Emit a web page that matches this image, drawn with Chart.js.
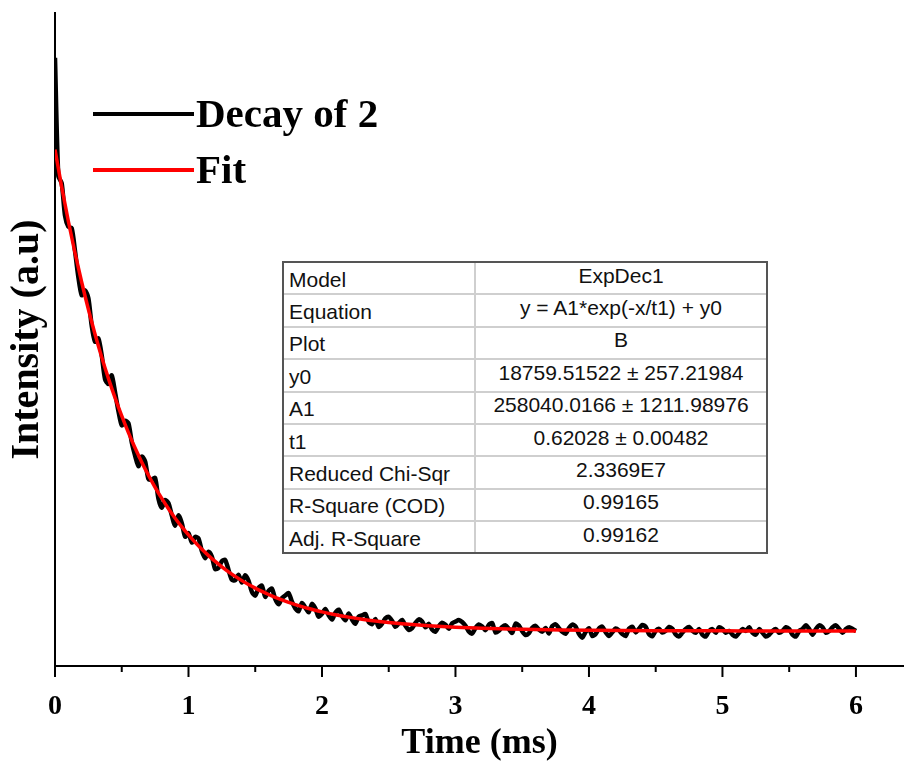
<!DOCTYPE html>
<html>
<head>
<meta charset="utf-8">
<script src="https://cdn.jsdelivr.net/npm/chart.js@4.4.1/dist/chart.umd.min.js"></script>
<style>
  body { margin: 0; background: #fff; }
  #wrap { position: relative; width: 904px; height: 762px; }
  #fitTable {
    position: absolute; left: 282px; top: 261px; width: 486px; height: 293px;
    border-collapse: separate; border-spacing: 0; border: 2px solid #555;
    table-layout: fixed; background: #fff; box-sizing: border-box;
    font: 21px/20px "Liberation Sans", Arial, sans-serif; color: #111;
  }
  #fitTable td { padding: 0 5px; border-bottom: 2px solid #cfcfcf; white-space: nowrap; }
  #fitTable tr:last-child td { border-bottom: none; }
  #fitTable td.k { width: 180px; border-right: 2px solid #cfcfcf; padding-top: 3px; }
  #fitTable td.v { text-align: center; padding-bottom: 5px; }
</style>
</head>
<body>
<div id="wrap">
  <canvas id="decayChart"></canvas>
  <table id="fitTable"></table>
</div>
<script>
// decay of 2, intensity in thousands of counts, sampled every 0.025 ms
const timeStep = 0.025;
const decayK = [
  326, 262.6, 258.8, 241.4, 235.4, 234.7, 222.4, 208.4, 198.7, 201.3,
  197.2, 182.4, 173.8, 175.6, 166.5, 153.7, 151.2, 155.8, 146.7, 136.7,
  129.0, 131.4, 130.1, 119.9, 112.8, 107.0, 112.3, 109.7, 100.2, 99.9,
  100.8, 89.7, 84.8, 89.0, 87.3, 80.7, 75.2, 80.8, 76.5, 69.3,
  71.2, 66.2, 69.2, 68.4, 61.6, 57.8, 61.2, 58.6, 52.0, 52.6,
  56.2, 56.8, 51.5, 46.2, 46.0, 48.9, 44.8, 48.7, 45.7, 39.7,
  37.7, 41.8, 43.0, 37.1, 40.3, 41.5, 35.8, 33.1, 36.4, 37.8,
  39.1, 34.5, 30.9, 29.4, 33.8, 31.3, 28.8, 33.3, 30.9, 26.4,
  28.0, 30.6, 27.2, 24.9, 28.5, 30.2, 26.8, 24.5, 28.2, 24.9,
  22.6, 26.4, 27.1, 27.9, 23.6, 22.4, 25.2, 20.9, 22.7, 25.5,
  26.4, 24.2, 21.0, 22.9, 24.7, 21.6, 19.4, 20.3, 23.1, 25.0,
  23.9, 20.7, 22.6, 19.5, 18.4, 21.3, 23.2, 22.1, 20.0, 22.9,
  23.8, 24.7, 23.6, 21.6, 18.5, 17.4, 20.4, 22.3, 21.2, 19.2,
  22.1, 23.0, 18.0, 18.9, 20.9, 21.8, 19.8, 17.8, 22.7, 21.7,
  18.6, 16.6, 17.6, 20.5, 21.5, 19.5, 18.4, 20.4, 17.4, 21.4,
  22.3, 20.3, 18.3, 17.3, 20.3, 22.2, 21.2, 17.2, 15.2, 18.2,
  20.2, 16.1, 17.1, 20.1, 21.1, 18.1, 16.1, 18.1, 20.1, 19.1,
  17.1, 16.1, 20.0, 21.0, 18.0, 20.0, 22.0, 21.0, 17.0, 16.0,
  18.9, 19.9, 17.9, 18.9, 20.9, 19.9, 16.9, 15.9, 17.9, 19.9,
  20.9, 18.9, 17.8, 19.8, 16.8, 15.8, 18.8, 19.8, 17.8, 20.8,
  19.8, 17.8, 18.8, 16.8, 15.8, 17.8, 19.8, 18.8, 20.8, 17.8,
  16.8, 19.8, 17.8, 15.8, 16.8, 18.8, 19.8, 17.8, 18.8, 20.8,
  19.8, 16.8, 15.8, 18.8, 19.8, 21.8, 19.8, 16.8, 19.8, 21.8,
  20.8, 17.8, 18.8, 20.8, 21.8, 19.8, 17.8, 19.8, 20.8, 19.8,
  18.8
];

// fitted ExpDec1 curve
const fitTime = [
  0, 0.05, 0.1, 0.15, 0.2, 0.25, 0.3, 0.35, 0.4, 0.45,
  0.5, 0.55, 0.6, 0.65, 0.7, 0.75, 0.8, 0.85, 0.9, 0.95,
  1.0, 1.05, 1.1, 1.15, 1.2, 1.25, 1.3, 1.35, 1.4, 1.45,
  1.5, 1.55, 1.6, 1.65, 1.7, 1.75, 1.8, 1.85, 1.9, 1.95,
  2.0, 2.1, 2.2, 2.3, 2.4, 2.5, 2.6, 2.7, 2.8, 2.9,
  3.0, 3.2, 3.4, 3.6, 3.8, 4.0, 4.5, 5.0, 5.5, 6.0
];
const fitK = [
  276.80, 256.81, 238.38, 221.37, 205.68, 191.20, 177.84, 165.52, 154.15, 143.67,
  134.00, 125.08, 116.84, 109.25, 102.24, 95.77, 89.81, 84.30, 79.23, 74.54,
  70.23, 66.24, 62.56, 59.17, 56.04, 53.15, 50.49, 48.03, 45.76, 43.67,
  41.74, 39.96, 38.32, 36.81, 35.41, 34.12, 32.93, 31.83, 30.82, 29.89,
  29.02, 27.50, 26.19, 25.09, 24.15, 23.35, 22.66, 22.08, 21.59, 21.17,
  20.81, 20.24, 19.83, 19.54, 19.32, 19.17, 18.94, 18.84, 18.80, 18.78
];

// time axis ticks: labelled at whole ms, minor marks at the halves
const timeTicks = [0, 0.5, 1, 1.5, 2, 2.5, 3, 3.5, 4, 4.5, 5, 5.5, 6];

const tableLabels = ['Model', 'Equation', 'Plot', 'y0', 'A1', 't1',
  'Reduced Chi-Sqr', 'R-Square (COD)', 'Adj. R-Square'];
const tableValues = ['ExpDec1', 'y = A1*exp(-x/t1) + y0', 'B',
  '18759.51522 ± 257.21984', '258040.0166 ± 1211.98976', '0.62028 ± 0.00482',
  '2.3369E7', '0.99165', '0.99162'];

const serif = '"Liberation Serif", "Times New Roman", serif';
const isWhole = v => Math.abs(v - Math.round(v)) < 1e-6;

const table = document.getElementById('fitTable');
tableLabels.forEach((label, i) => {
  const tr = document.createElement('tr');
  tr.innerHTML = '<td class="k">' + label + '</td><td class="v">' + tableValues[i] + '</td>';
  table.appendChild(tr);
});

// legend in the top left corner, like the Origin plot
const cornerLegend = {
  id: 'cornerLegend',
  afterDraw(chart) {
    const ctx = chart.ctx;
    ctx.save();
    ctx.font = 'bold 41px ' + serif;
    ctx.textBaseline = 'middle';
    chart.data.datasets.forEach((ds, i) => {
      const y = 114 + i * 56;
      ctx.strokeStyle = ds.borderColor;
      ctx.lineWidth = 4;
      ctx.beginPath();
      ctx.moveTo(93, y);
      ctx.lineTo(194, y);
      ctx.stroke();
      ctx.fillStyle = '#000';
      ctx.fillText(ds.label, 196, y + 2);
    });
    ctx.restore();
  }
};

// major and minor ticks on the time axis
const tickMarks = {
  id: 'tickMarks',
  afterDraw(chart) {
    const xs = chart.scales.x;
    const ctx = chart.ctx;
    ctx.save();
    ctx.strokeStyle = '#000';
    ctx.lineWidth = 2;
    xs.ticks.forEach(t => {
      const px = xs.getPixelForValue(t.value);
      const len = isWhole(t.value) ? 11 : 6;
      ctx.beginPath();
      ctx.moveTo(px, xs.top);
      ctx.lineTo(px, xs.top + len);
      ctx.stroke();
    });
    ctx.restore();
  }
};

new Chart(document.getElementById('decayChart'), {
  type: 'line',
  data: {
    datasets: [
      {
        label: 'Decay of 2',
        data: decayK.map((v, i) => ({ x: i * timeStep, y: v })),
        borderColor: '#000',
        borderWidth: 4.5,
        borderJoinStyle: 'round',
        pointRadius: 0,
        tension: 0.25,
        order: 2
      },
      {
        label: 'Fit',
        data: fitK.map((v, i) => ({ x: fitTime[i], y: v })),
        borderColor: '#ff0000',
        borderWidth: 3.5,
        pointRadius: 0,
        cubicInterpolationMode: 'monotone',
        order: 1
      }
    ]
  },
  options: {
    responsive: true,
    maintainAspectRatio: false,
    animation: false,
    layout: { padding: { top: 13, right: 0, left: 0, bottom: 0 } },
    plugins: { legend: { display: false }, tooltip: { enabled: false } },
    scales: {
      x: {
        type: 'linear',
        min: 0,
        max: 6.36,
        afterBuildTicks(scale) {
          scale.ticks = timeTicks.map(v => ({ value: v }));
        },
        afterFit(scale) { scale.height = 96; },
        grid: { drawOnChartArea: false, drawTicks: false },
        border: { color: '#000', width: 2 },
        ticks: {
          autoSkip: false,
          maxRotation: 0,
          padding: 24,
          color: '#000',
          font: { family: serif, size: 28, weight: 'bold' },
          callback: v => (isWhole(v) ? String(Math.round(v)) : '')
        },
        title: {
          display: true,
          text: 'Time (ms)',
          color: '#000',
          padding: 0,
          font: { family: serif, size: 36, weight: 'bold', lineHeight: 1 }
        }
      },
      y: {
        min: 0,
        max: 350,
        afterFit(scale) { scale.width = 55; },
        grid: { drawOnChartArea: false, drawTicks: false },
        border: { color: '#000', width: 2 },
        ticks: { display: false },
        title: {
          display: true,
          text: 'Intensity (a.u)',
          color: '#000',
          padding: { top: 8, bottom: 0 },
          font: { family: serif, size: 40, weight: 'bold', lineHeight: 1 }
        }
      }
    }
  },
  plugins: [cornerLegend, tickMarks]
});
</script>
</body>
</html>
